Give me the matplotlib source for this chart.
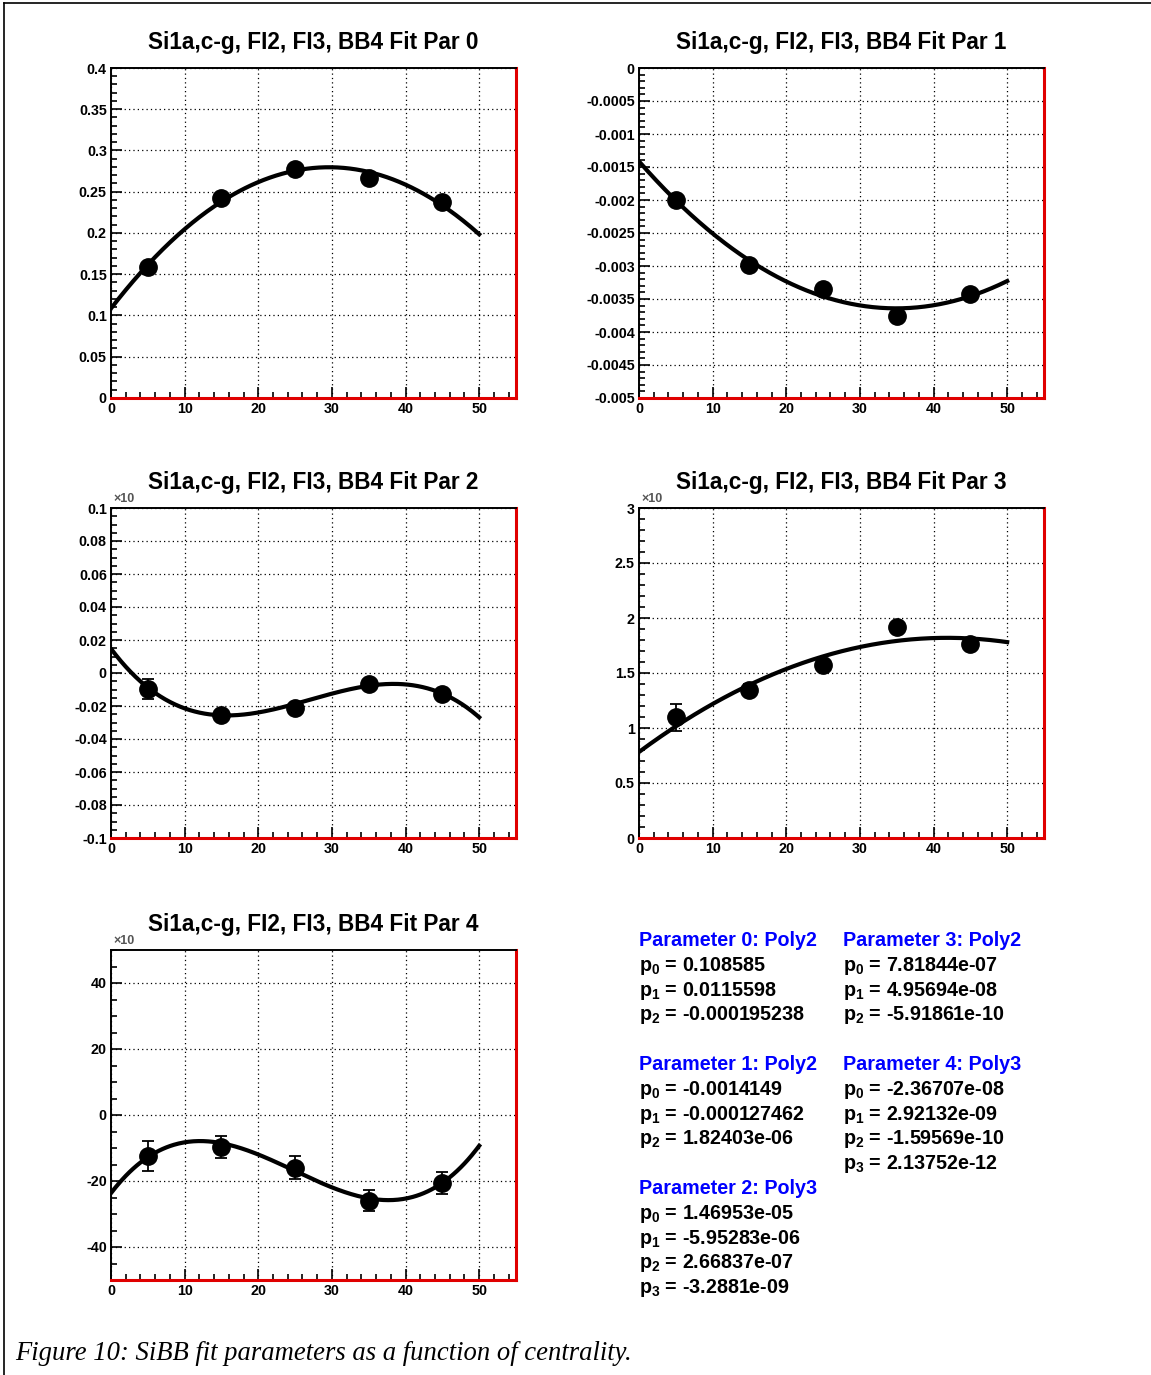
import numpy as np
import matplotlib
matplotlib.use('Agg')
import matplotlib.pyplot as plt
from matplotlib.ticker import MultipleLocator, FuncFormatter
from matplotlib.lines import Line2D

plt.rcParams['font.family'] = ['Liberation Sans', 'DejaVu Sans']
plt.rcParams['font.weight'] = 'bold'
plt.rcParams['mathtext.fontset'] = 'custom'
plt.rcParams['mathtext.rm'] = 'Liberation Sans:bold'
plt.rcParams['mathtext.bf'] = 'Liberation Sans:bold'
plt.rcParams['mathtext.it'] = 'Liberation Sans:bold'

W, H = 1151, 1375

# centrality bins
centrality = [5, 15, 25, 35, 45]

# fitted parameter values per centrality bin (y units already scaled for display)
par0 = [0.1588, 0.2424, 0.2776, 0.2667, 0.2376]
par0_err = [0.004, 0.004, 0.004, 0.004, 0.004]
par1 = [-0.00200, -0.00299, -0.00335, -0.00376, -0.00343]
par1_err = [0.00005, 0.00005, 0.00005, 0.00005, 0.00005]
par2 = [-0.0097, -0.0255, -0.0212, -0.0067, -0.0127]     # x 1e-3
par2_err = [0.006, 0.003, 0.003, 0.003, 0.003]
par3 = [1.097, 1.346, 1.577, 1.918, 1.760]              # x 1e-6
par3_err = [0.12, 0.05, 0.05, 0.05, 0.05]
par4 = [-12.5, -9.8, -16.0, -26.0, -20.5]               # x 1e-9
par4_err = [4.5, 3.3, 3.5, 3.2, 3.3]

# polynomial fit coefficients (p0, p1, ...)
fit0 = [0.108585, 0.0115598, -0.000195238]
fit1 = [-0.0014149, -0.000127462, 1.82403e-06]
fit2 = [1.46953e-05, -5.95283e-06, 2.66837e-07, -3.2881e-09]
fit3 = [7.81844e-07, 4.95694e-08, -5.91861e-10]
fit4 = [-2.36707e-08, 2.92132e-09, -1.59569e-10, 2.13752e-12]
fit_names = ['Poly2', 'Poly2', 'Poly3', 'Poly2', 'Poly3']

panels = [
    # values, errors, coeffs, display scale, ylim, major, minor, show x10
    (par0, par0_err, fit0, 1.0, (0, 0.4), 0.05, 0.01, False),
    (par1, par1_err, fit1, 1.0, (-0.005, 0), 0.0005, 0.0001, False),
    (par2, par2_err, fit2, 1e3, (-0.1, 0.1), 0.02, 0.005, True),
    (par3, par3_err, fit3, 1e6, (0, 3), 0.5, 0.1, True),
    (par4, par4_err, fit4, 1e9, (-50, 50), 20, 5, True),
]

# frame positions in pixels: left, top
frames = [(111, 68), (639, 68), (111, 508), (639, 508), (111, 950)]
fw, fh = 405, 330


def fmt(v, pos=None):
    if abs(v) < 1e-12:
        return '0'
    return '%g' % round(v, 10)


fig = plt.figure(figsize=(W / 100, H / 100), dpi=100)

xfit = np.linspace(0, 50, 300)

for i, (vals, errs, coefs, scale, ylim, major, minor, x10) in enumerate(panels):
    left, top = frames[i]
    ax = fig.add_axes([left / W, 1 - (top + fh) / H, fw / W, fh / H])
    yfit = np.polynomial.polynomial.polyval(xfit, coefs) * scale
    ax.plot(xfit, yfit, color='black', lw=3, zorder=3)
    ax.errorbar(centrality, vals, yerr=errs, fmt='o', color='black',
                ms=12.5, elinewidth=1.3, capsize=4, capthick=1.3, zorder=4)
    ax.set_xlim(0, 55)
    ax.set_ylim(*ylim)
    ax.xaxis.set_major_locator(MultipleLocator(10))
    ax.xaxis.set_minor_locator(MultipleLocator(2))
    ax.yaxis.set_major_locator(MultipleLocator(major))
    ax.yaxis.set_minor_locator(MultipleLocator(minor))
    ax.xaxis.set_major_formatter(FuncFormatter(fmt))
    ax.yaxis.set_major_formatter(FuncFormatter(fmt))
    ax.tick_params(which='both', direction='in', top=False, right=False,
                   width=1.2, labelsize=10.3, pad=3)
    ax.tick_params(which='major', length=8)
    ax.tick_params(which='minor', length=4)
    for lab in ax.get_xticklabels() + ax.get_yticklabels():
        lab.set_fontweight('bold')
    ax.grid(True, which='major', color='black', lw=0.9, ls=(0, (1, 2.5)))
    ax.set_axisbelow(True)
    for side in ['top', 'left']:
        ax.spines[side].set_linewidth(1.4)
        ax.spines[side].set_color('black')
    for side in ['right', 'bottom']:
        ax.spines[side].set_linewidth(2.2)
        ax.spines[side].set_color('#e00000')
    ax.set_title('Si1a,c-g, FI2, FI3, BB4 Fit Par %d' % i, fontsize=16.3,
                 fontweight='bold', pad=14)
    if x10:
        fig.text((left + 2) / W, 1 - (top - 9) / H, '\u00d710', fontsize=9,
                 color='#555555', ha='left', va='center')

# parameter listing
line_h = 24.8
blocks = [(0, 639, 941), (1, 639, 1065), (2, 639, 1189), (3, 843, 941), (4, 843, 1065)]
fits = [fit0, fit1, fit2, fit3, fit4]
for idx, x0, y0 in blocks:
    fig.text(x0 / W, 1 - y0 / H, 'Parameter %d: %s' % (idx, fit_names[idx]),
             color='#0000ff', fontsize=14.2, fontweight='bold', va='center')
    for k, c in enumerate(fits[idx]):
        y = y0 + (k + 1) * line_h
        fig.text(x0 / W, 1 - y / H, r'p$_{%d}$ = %s' % (k, '%g' % c),
                 fontsize=14.2, fontweight='bold', va='center')

fig.text(15 / W, 1 - 1353 / H,
         'Figure 10: SiBB fit parameters as a function of centrality.',
         family=['Liberation Serif', 'DejaVu Serif'], style='italic',
         fontweight='normal', fontsize=19.2, va='center')

# page border
fig.add_artist(Line2D([4 / W, 1], [1 - 3 / H, 1 - 3 / H], color='black', lw=1.2))
fig.add_artist(Line2D([4 / W, 4 / W], [0, 1 - 3 / H], color='black', lw=1.2))

fig.savefig('out.png', dpi=100)
